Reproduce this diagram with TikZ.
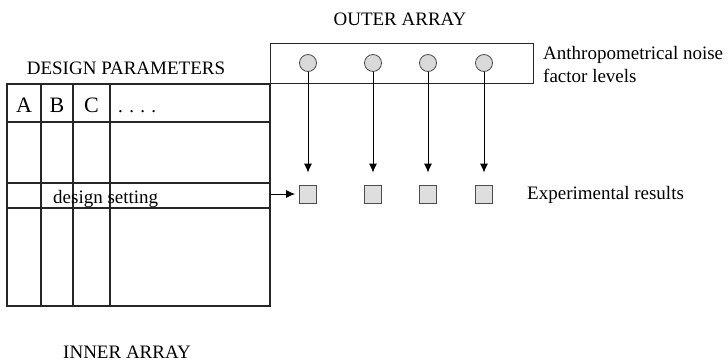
\documentclass[tikz,border=0pt]{standalone}
\usepackage{fontspec}
\setmainfont{Liberation Serif}
\usetikzlibrary{arrows.meta}
\tikzset{
  lbl/.style={inner sep=0pt, font=\fontsize{19}{23}\selectfont},
  hdr/.style={inner sep=0pt, font=\fontsize{22}{24}\selectfont},
  gridline/.style={line width=1.2pt, draw=black!85},
  level/.style={circle, draw=black!70, fill=black!15, line width=0.8pt, minimum size=17pt, inner sep=0pt},
  result/.style={rectangle, draw=black!70, fill=black!13, line width=0.8pt, minimum width=17pt, minimum height=18pt, inner sep=0pt},
  flow/.style={line width=0.9pt, -{Latex[length=9pt,width=8pt]}},
}
\begin{document}
\begin{tikzpicture}[x=1pt, y=-1pt]
\useasboundingbox (0,0) rectangle (728,362);

% inner array table
\draw[gridline] (7,84) rectangle (270,306);
\foreach \xx in {41,73,110} \draw[gridline] (\xx,84) -- (\xx,306);
\foreach \yy in {122,183,208} \draw[gridline] (7,\yy) -- (270,\yy);
\coordinate (rowout) at (270,194);

% outer array box
\node[draw=black!85, line width=1.2pt, minimum width=263pt, minimum height=40pt, inner sep=0pt, anchor=north west] (outer) at (270,43) {};

% column headers of the table
\node[hdr, anchor=base] (hA) at (24,112) {A};
\node[hdr, anchor=base] (hB) at (57,112) {B};
\node[hdr, anchor=base] (hC) at (91.5,112) {C};
\node[lbl, anchor=base west] (hdots) at (118,112) {. . . .};
\node[lbl, anchor=base west] (setting) at (53,203) {design setting};

% noise levels and results
\foreach \i/\xx in {1/308,2/373,3/428,4/484} {
  \node[level] (c\i) at (\xx,63) {};
  \node[result] (s\i) at (\xx,194) {};
  \draw[flow, shorten >=12pt] (c\i) -- (s\i);
}
\draw[flow, shorten >=4pt] (rowout) -- (s1);

% labels
\node[lbl, anchor=base] (outerlbl) at (400,25) {OUTER ARRAY};
\node[lbl, anchor=base] (designlbl) at (126,74) {DESIGN PARAMETERS};
\node[lbl, anchor=base] (innerlbl) at (127,358) {INNER ARRAY};
\node[lbl, anchor=base west] (noise1) at (543,59) {Anthropometrical noise};
\node[lbl, anchor=base west] (noise2) at (543,82) {factor levels};
\node[lbl, anchor=base west] (results) at (527,199.5) {Experimental results};
\end{tikzpicture}
\end{document}
